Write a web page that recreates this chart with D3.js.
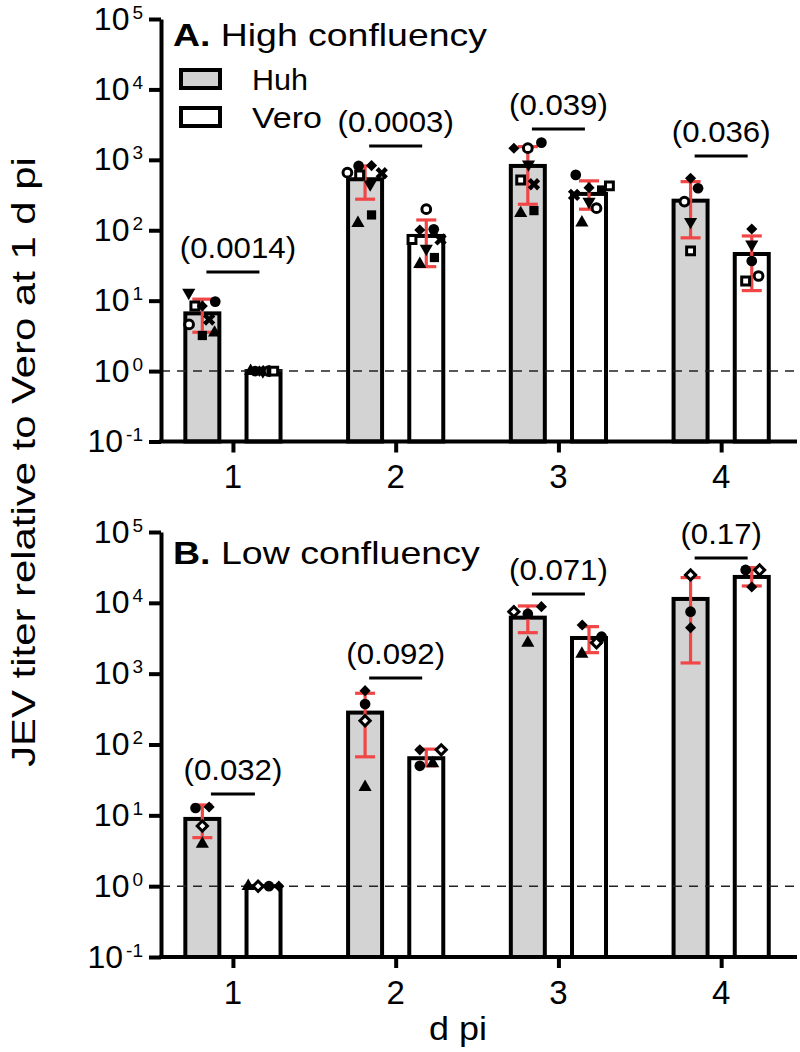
<!DOCTYPE html>
<html>
<head>
<meta charset="utf-8">
<script src="https://cdn.jsdelivr.net/npm/d3@7"></script>
<style>
  html, body { margin: 0; padding: 0; background: #fff; }
  svg { display: block; font-family: "Liberation Sans", Arial, Helvetica, sans-serif; }
</style>
</head>
<body>
<script>
// ---------------- DATA ----------------
const days = [1, 2, 3, 4];
const cells = ["Huh", "Vero"];
const yTickExps = [-1, 0, 1, 2, 3, 4, 5];
const panelLetters = ["A.", "B."];
const panelTitles = ["High confluency", "Low confluency"];
const yAxisTitle = "JEV titer relative to Vero at 1 d pi";
const xAxisTitle = "d pi";

// High confluency: bar heights and error bar limits
const highHuhMean = [6.6, 530, 819, 263];
const highHuhLow  = [3.56, 276, 234, 78];
const highHuhHigh = [10.5, 818, 1540, 490];
const highVeroMean = [1.0, 83, 328, 46];
const highVeroLow  = [null, 30.4, 199, 13.9];
const highVeroHigh = [null, 140, 503, 83];
const highPValues = ["(0.0014)", "(0.0003)", "(0.039)", "(0.036)"];
const highBracket = [25.6, 1570, 2735, 1132];

// Low confluency
const lowHuhMean = [8.9, 282, 6180, 11350];
const lowHuhLow  = [4.84, 67, 3790, 1416];
const lowHuhHigh = [14, 529, 9040, 22700];
const lowVeroMean = [1.0, 64, 3190, 23200];
const lowVeroLow  = [null, 50, 1980, 17300];
const lowVeroHigh = [null, 86, 4610, 31400];
const lowPValues = ["(0.032)", "(0.092)", "(0.071)", "(0.17)"];
const lowBracket = [20.0, 869, 13340, 43000];

// Individual replicates: [day, cell, shape, value, jitter]
const highPoints = [
  [1,"Huh","triDown",13,-0.40],[1,"Huh","squareOpen",8.4,-0.22],[1,"Huh","diamond",8.4,0.0],
  [1,"Huh","circle",9.7,0.38],[1,"Huh","circleOpen",4.6,-0.39],[1,"Huh","cross",5.4,0.2],
  [1,"Huh","square",3.2,0.0],[1,"Huh","triUp",3.5,0.36],
  [1,"Vero","triUp",1.0,-0.38],[1,"Vero","circle",1.0,-0.25],[1,"Vero","diamond",1.0,-0.12],
  [1,"Vero","triDown",1.0,-0.02],[1,"Vero","cross",1.0,0.08],[1,"Vero","circleOpen",1.0,0.15],
  [1,"Vero","square",1.0,0.22],[1,"Vero","squareOpen",1.0,0.3],
  [2,"Huh","circleOpen",658,-0.52],[2,"Huh","circle",819,-0.19],[2,"Huh","squareOpen",611,-0.16],
  [2,"Huh","diamond",828,0.19],[2,"Huh","cross",645,0.49],[2,"Huh","triDown",450,0.15],
  [2,"Huh","square",165,0.19],[2,"Huh","triUp",126,-0.21],
  [2,"Vero","circleOpen",199,0.0],[2,"Vero","diamond",101,-0.19],[2,"Vero","circle",103,0.22],
  [2,"Vero","squareOpen",74,-0.42],[2,"Vero","cross",74,0.42],[2,"Vero","triDown",55,0.0],
  [2,"Vero","square",41,0.24],[2,"Vero","triUp",33,-0.19],
  [3,"Huh","diamond",1462,-0.41],[3,"Huh","circleOpen",1462,0.0],[3,"Huh","circle",1754,0.4],
  [3,"Huh","triDown",865,0.02],[3,"Huh","squareOpen",518,-0.21],[3,"Huh","cross",450,0.18],
  [3,"Huh","triUp",174,-0.21],[3,"Huh","square",190,0.18],
  [3,"Vero","circle",611,-0.39],[3,"Vero","squareOpen",426,0.6],[3,"Vero","square",373,0.37],
  [3,"Vero","diamond",403,0.0],[3,"Vero","cross",318,-0.44],[3,"Vero","triDown",255,0.0],
  [3,"Vero","circleOpen",206,0.22],[3,"Vero","triUp",128,-0.21],
  [4,"Huh","diamond",548,0.0],[4,"Huh","circle",395,0.22],[4,"Huh","circleOpen",255,-0.18],
  [4,"Huh","triDown",132,0.0],[4,"Huh","squareOpen",51,0.0],
  [4,"Vero","diamond",104,0.0],[4,"Vero","triDown",63,0.0],[4,"Vero","circle",36.6,0.0],
  [4,"Vero","circleOpen",22.4,0.2],[4,"Vero","squareOpen",19,-0.18]
];
const lowPoints = [
  [1,"Huh","circle",12.7,-0.2],[1,"Huh","diamond",13.1,0.2],[1,"Huh","diamondOpen",7.08,0.0],[1,"Huh","triUp",3.95,0.0],
  [1,"Vero","triUp",1.0,-0.45],[1,"Vero","diamondOpen",1.0,-0.16],[1,"Vero","circle",1.0,0.16],[1,"Vero","diamond",1.0,0.45],
  [2,"Huh","diamond",576,0.0],[2,"Huh","circle",373,0.0],[2,"Huh","diamondOpen",217,0.0],[2,"Huh","triUp",25,0.0],
  [2,"Vero","diamond",84,-0.19],[2,"Vero","diamondOpen",84,0.44],[2,"Vero","circle",50,-0.19],[2,"Vero","triUp",54,0.19],
  [3,"Huh","diamondOpen",7510,-0.41],[3,"Huh","circle",6970,0.0],[3,"Huh","diamond",8830,0.4],[3,"Huh","triUp",2715,0.0],
  [3,"Vero","diamond",4870,-0.2],[3,"Vero","diamondOpen",2740,0.22],[3,"Vero","circle",3330,0.37],[3,"Vero","triUp",1900,-0.21],
  [4,"Huh","diamondOpen",24800,0.0],[4,"Huh","circle",7500,0.0],[4,"Huh","diamond",4460,0.0],
  [4,"Vero","circle",29100,-0.18],[4,"Vero","diamondOpen",29100,0.23],[4,"Vero","diamond",16750,0.0]
];

// ---------------- DRAWING ----------------
const W = 800, H = 1052;
const svg = d3.select("body").append("svg").attr("width", W).attr("height", H);

const FILL = { Huh: "#d3d3d3", Vero: "#ffffff" };
const RED = "#f04646";

const xs = d3.scaleLinear().domain([0.558, 4.466]).range([161, 797]);
const unit = xs(1) - xs(0);
const barOff = 0.188 * unit;
const barW = 34;

const panels = [
  { letter: panelLetters[0], title: panelTitles[0],
    means: { Huh: highHuhMean, Vero: highVeroMean },
    lows: { Huh: highHuhLow, Vero: highVeroLow },
    highs: { Huh: highHuhHigh, Vero: highVeroHigh },
    points: highPoints, pvals: highPValues, bracket: highBracket,
    yRange: [441.5, 19], titleY: 46, titleW: 314, legend: true },
  { letter: panelLetters[1], title: panelTitles[1],
    means: { Huh: lowHuhMean, Vero: lowVeroMean },
    lows: { Huh: lowHuhLow, Vero: lowVeroLow },
    highs: { Huh: lowHuhHigh, Vero: lowVeroHigh },
    points: lowPoints, pvals: lowPValues, bracket: lowBracket,
    yRange: [957, 532], titleY: 564, titleW: 307, legend: false }
];

function fitText(parent, x, y, targetW, anchor, build, rotate) {
  const g = parent.append("g");
  const t = g.append("text").attr("x", 0).attr("y", 0).attr("text-anchor", anchor || "start");
  build(t);
  const len = t.node().getComputedTextLength();
  const s = len > 0 ? targetW / len : 1;
  g.attr("transform", `translate(${x},${y})` + (rotate ? ` rotate(${rotate})` : "") + ` scale(${s},1)`);
  return g;
}

function symbolFor(shape) {
  switch (shape) {
    case "circle": return { path: d3.symbol(d3.symbolCircle, 90)(), rot: 0, open: false };
    case "circleOpen": return { path: d3.symbol(d3.symbolCircle, 60)(), rot: 0, open: true };
    case "square": return { path: d3.symbol(d3.symbolSquare, 85)(), rot: 0, open: false };
    case "squareOpen": return { path: d3.symbol(d3.symbolSquare, 62)(), rot: 0, open: true };
    case "triUp": return { path: d3.symbol(d3.symbolTriangle, 75)(), rot: 0, open: false };
    case "triDown": return { path: d3.symbol(d3.symbolTriangle, 75)(), rot: 180, open: false };
    case "diamond": return { path: d3.symbol(d3.symbolSquare, 62)(), rot: 45, open: false };
    case "diamondOpen": return { path: d3.symbol(d3.symbolSquare, 52)(), rot: 45, open: true };
    case "cross": return { path: d3.symbol(d3.symbolCross, 95)(), rot: 45, open: false };
  }
}

panels.forEach(p => {
  const y = d3.scaleLog().domain([0.1, 1e5]).range(p.yRange);
  const g = svg.append("g");
  const base = y(0.1);

  // bars
  days.forEach((d, i) => {
    cells.forEach((c, ci) => {
      const cx = xs(d) + (ci === 0 ? -barOff : barOff);
      const v = p.means[c][i];
      g.append("rect")
        .attr("x", cx - barW / 2).attr("y", y(v))
        .attr("width", barW).attr("height", base - y(v))
        .attr("fill", FILL[c]).attr("stroke", "#000").attr("stroke-width", 4);
    });
  });

  // dashed reference at 1
  g.append("line")
    .attr("x1", xs.range()[0]).attr("x2", xs.range()[1])
    .attr("y1", y(1)).attr("y2", y(1))
    .attr("stroke", "#222").attr("stroke-width", 1.5).attr("stroke-dasharray", "9,7");

  // error bars
  days.forEach((d, i) => {
    cells.forEach((c, ci) => {
      const lo = p.lows[c][i], hi = p.highs[c][i];
      if (lo == null || hi == null) return;
      const cx = xs(d) + (ci === 0 ? -barOff : barOff);
      const eg = g.append("g").attr("stroke", RED).attr("stroke-width", 3.2);
      eg.append("line").attr("x1", cx).attr("x2", cx).attr("y1", y(lo)).attr("y2", y(hi));
      eg.append("line").attr("x1", cx - 10).attr("x2", cx + 10).attr("y1", y(lo)).attr("y2", y(lo));
      eg.append("line").attr("x1", cx - 10).attr("x2", cx + 10).attr("y1", y(hi)).attr("y2", y(hi));
    });
  });

  // points
  p.points.forEach(([d, c, shape, v, jit]) => {
    const cx = xs(d) + (c === "Huh" ? -barOff : barOff) + jit * barW;
    const s = symbolFor(shape);
    g.append("path")
      .attr("d", s.path)
      .attr("transform", `translate(${cx},${y(v)}) rotate(${s.rot})`)
      .attr("fill", s.open ? "#fff" : "#000")
      .attr("stroke", s.open ? "#000" : "none")
      .attr("stroke-width", s.open ? 3 : 0);
  });

  // brackets and p-values
  days.forEach((d, i) => {
    const ly = y(p.bracket[i]);
    const half = (p.pvals[i] === "(0.032)") ? 22 : 26.5;
    g.append("line")
      .attr("x1", xs(d) - half).attr("x2", xs(d) + half)
      .attr("y1", ly).attr("y2", ly)
      .attr("stroke", "#000").attr("stroke-width", 3);
    const ng = g.append("g").attr("transform", `translate(${xs(d) + (i === 0 && p.legend ? 5 : 0)},${ly - 14}) scale(1.04,1)`);
    ng.append("text").attr("text-anchor", "middle")
      .attr("font-size", 30).attr("fill", "#000").text(p.pvals[i]);
  });

  // y axis
  const yAxis = d3.axisLeft(y)
    .tickValues(yTickExps.map(e => Math.pow(10, e)))
    .tickSize(12).tickSizeOuter(0).tickFormat(() => "");
  const ya = g.append("g").attr("transform", `translate(${xs.range()[0]},0)`).call(yAxis);
  ya.select(".domain").attr("stroke", "#000").attr("stroke-width", 4);
  ya.selectAll(".tick line").attr("stroke", "#000").attr("stroke-width", 4);
  yTickExps.forEach(e => {
    const t = g.append("text")
      .attr("x", 143).attr("y", y(Math.pow(10, e)) + 10.5)
      .attr("text-anchor", "end").attr("font-size", 32).attr("fill", "#000");
    t.append("tspan").text("10");
    t.append("tspan").attr("font-size", 19).attr("dx", 3).attr("dy", -11).text(e < 0 ? "-" + Math.abs(e) : String(e));
  });

  // x axis
  const xAxis = d3.axisBottom(xs).tickValues(days).tickSize(11).tickSizeOuter(0).tickFormat(() => "");
  const xa = g.append("g").attr("transform", `translate(0,${base})`).call(xAxis);
  xa.select(".domain").attr("stroke", "#000").attr("stroke-width", 4).attr("d", `M${xs.range()[0] - 2},0H${xs.range()[1]}`);
  xa.selectAll(".tick line").attr("stroke", "#000").attr("stroke-width", 4);
  days.forEach(d => {
    g.append("text").attr("x", xs(d)).attr("y", base + 46.5)
      .attr("text-anchor", "middle").attr("font-size", 33).attr("fill", "#000").text(d);
  });

  // title
  fitText(g, 173, p.titleY, p.titleW, "start", t => {
    t.attr("font-size", 32).attr("fill", "#000");
    t.append("tspan").attr("font-weight", "bold").text(p.letter);
    t.append("tspan").text(" " + p.title);
  });

  // legend
  if (p.legend) {
    cells.forEach((c, ci) => {
      const ry = ci === 0 ? 70 : 108;
      g.append("rect").attr("x", 181).attr("y", ry).attr("width", 39).attr("height", 18)
        .attr("fill", FILL[c]).attr("stroke", "#000").attr("stroke-width", 4);
      fitText(g, 252, ry + 19.5, ci === 0 ? 56 : 70, "start", t => {
        t.attr("font-size", 29).attr("fill", "#000").text(c);
      });
    });
  }
});

// axis titles
fitText(svg, 35, 462, 610, "middle", t => {
  t.attr("font-size", 34).attr("fill", "#000").text(yAxisTitle);
}, -90);
fitText(svg, 458, 1040, 58, "middle", t => {
  t.attr("font-size", 34).attr("fill", "#000").text(xAxisTitle);
});
</script>
</body>
</html>
